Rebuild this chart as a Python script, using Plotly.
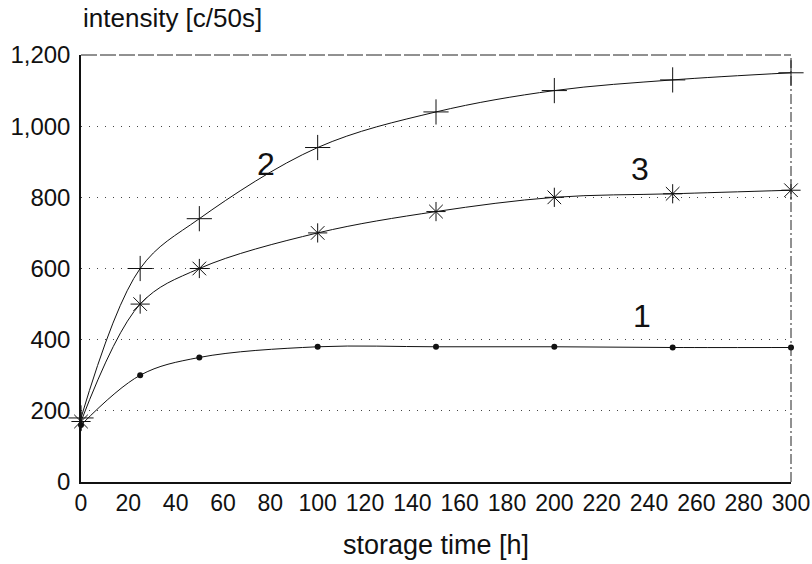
import plotly.graph_objects as go

# storage time in hours
hours = [0, 25, 50, 100, 150, 200, 250, 300]

# intensity [c/50s] for the three samples
sample_1 = [160, 300, 350, 380, 380, 380, 378, 378]
sample_2 = [180, 600, 740, 940, 1040, 1100, 1130, 1150]
sample_3 = [170, 500, 600, 700, 760, 800, 810, 820]

x_ticks = list(range(0, 301, 20))
y_ticks = [0, 200, 400, 600, 800, 1000, 1200]
y_tick_text = ["0", "200", "400", "600", "800", "1,000", "1,200"]

curve_labels = [("2", 78, 895), ("3", 236, 880), ("1", 237, 466)]

FONT = "Liberation Sans, Arial, sans-serif"
INK = "#111111"

fig = go.Figure()

line_style = dict(color=INK, width=1, shape="spline", smoothing=1.0)

fig.add_trace(go.Scatter(
    x=hours, y=sample_1, mode="lines+markers", line=line_style,
    marker=dict(symbol="circle", size=6, color=INK), cliponaxis=False, showlegend=False))
fig.add_trace(go.Scatter(
    x=hours, y=sample_2, mode="lines+markers", line=line_style,
    marker=dict(symbol="cross-thin-open", size=18, line=dict(color=INK, width=1)),
    cliponaxis=False, showlegend=False))
fig.add_trace(go.Scatter(
    x=hours, y=sample_3, mode="lines+markers", line=line_style,
    marker=dict(symbol="asterisk-open", size=16, line=dict(color=INK, width=1)),
    cliponaxis=False, showlegend=False))

for text, xv, yv in curve_labels:
    fig.add_annotation(x=xv, y=yv, text=text, showarrow=False,
                       font=dict(family=FONT, size=32, color=INK))

# top and right frame edges, drawn broken
fig.add_shape(type="line", xref="paper", yref="paper", x0=0, x1=1, y0=1, y1=1,
              line=dict(color="#222222", width=1, dash="16px,3px"))
fig.add_shape(type="line", xref="paper", yref="paper", x0=1, x1=1, y0=0, y1=1,
              line=dict(color="#222222", width=1, dash="10px,3px,2px,3px"))

fig.add_annotation(xref="paper", yref="paper", x=0.0, y=1.0, yshift=37,
                   xanchor="left", yanchor="middle", text="intensity [c/50s]",
                   showarrow=False, font=dict(family=FONT, size=26, color=INK))

fig.update_layout(
    width=812, height=564,
    margin=dict(l=81, r=21, t=55, b=82),
    paper_bgcolor="white", plot_bgcolor="white",
    font=dict(family=FONT, color=INK),
    xaxis=dict(
        range=[0, 300], tickvals=x_ticks, showgrid=False, zeroline=False,
        showline=True, linecolor=INK, linewidth=1.5, automargin=False,
        ticks="", tickfont=dict(size=23, color=INK),
        title=dict(text="storage time [h]", font=dict(size=27, color=INK), standoff=20),
    ),
    yaxis=dict(
        range=[0, 1200], tickvals=y_ticks, ticktext=y_tick_text,
        showgrid=True, gridcolor="#444444", gridwidth=1, griddash="1px,7px",
        zeroline=False, showline=True, linecolor=INK, linewidth=1.5, automargin=False,
        ticks="", tickfont=dict(size=24, color=INK), ticklabelstandoff=4,
    ),
)

fig.write_html("out.html")
